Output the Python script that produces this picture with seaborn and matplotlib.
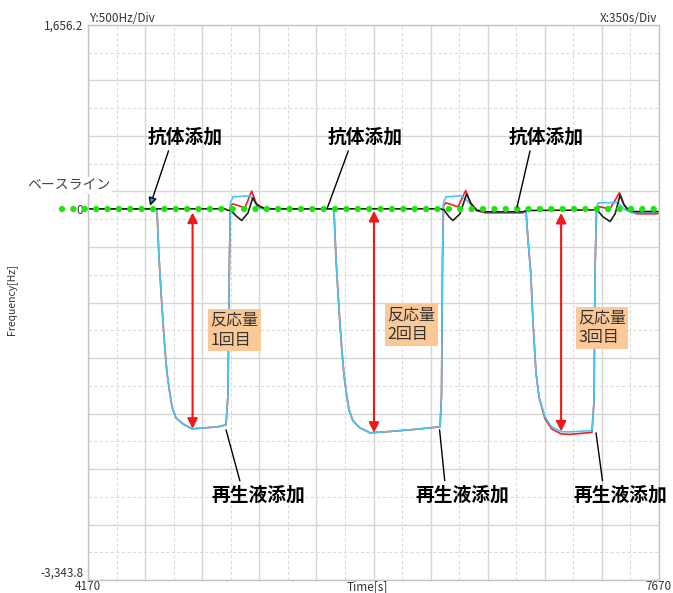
import numpy as np
import pandas as pd
import matplotlib
matplotlib.use("Agg")
import matplotlib.pyplot as plt
import seaborn as sns

# instrument screen range
t_min, t_max = 4170, 7670
hz_min, hz_max = -3343.8, 1656.2
t_div, hz_div = 350, 500

# traces: time [s] / frequency shift [Hz]
cyan_t = [4170, 4587, 4593, 4605, 4617, 4630, 4642, 4654, 4673, 4685, 4709, 4752, 4807, 4887, 4967, 5016,
          5028, 5037, 5043, 5059, 5163, 5181, 5224,
          5672, 5678, 5690, 5702, 5715, 5727, 5739, 5758, 5770, 5794, 5837, 5899, 5991, 6144, 6328,
          6337, 6343, 6349, 6364, 6462, 6487, 6542, 6603, 6836,
          6855, 6867, 6884, 6898, 6916, 6935, 6971, 7012, 7069, 7124, 7259,
          7272, 7278, 7287, 7296, 7413, 7432, 7462, 7505, 7664]
cyan_hz = [0, 0, -18, -432, -730, -1027, -1270, -1477, -1676, -1784, -1883, -1937, -1982, -1973, -1964, -1946,
           -1676, -459, 54, 108, 117, 90, 0,
           0, -27, -441, -748, -1045, -1288, -1496, -1703, -1811, -1910, -1973, -2018, -2009, -1991, -1964,
           -1676, -459, 54, 108, 117, 81, 0, -27, -27,
           -18, -279, -577, -1027, -1477, -1694, -1874, -1964, -2006, -2009, -1997,
           -1721, -550, -9, 54, 57, 36, -9, -33, -33]

red_t = [4170, 4587, 4593, 4605, 4617, 4630, 4642, 4654, 4673, 4685, 4709, 4752, 4807, 4887, 4967, 5016,
         5028, 5037, 5043, 5059, 5132, 5173, 5200, 5224, 5267,
         5672, 5678, 5690, 5702, 5715, 5727, 5739, 5758, 5770, 5794, 5837, 5899, 5991, 6144, 6328,
         6337, 6343, 6349, 6364, 6438, 6485, 6511, 6554, 6603, 6836,
         6855, 6867, 6884, 6898, 6916, 6935, 6971, 7012, 7069, 7124, 7259,
         7272, 7278, 7287, 7296, 7370, 7427, 7449, 7474, 7535, 7664]
red_hz = [0, 0, -18, -432, -730, -1027, -1270, -1477, -1676, -1784, -1883, -1937, -1982, -1973, -1964, -1946,
          -1676, -459, 30, 45, 9, 160, 54, 21, 0,
          0, -27, -441, -748, -1045, -1288, -1496, -1703, -1811, -1910, -1973, -2018, -2009, -1991, -1964,
          -1676, -459, 30, 54, 18, 165, 63, -15, -36, -36,
          -18, -279, -577, -1027, -1477, -1700, -1890, -1982, -2027, -2032, -2014,
          -1730, -550, -9, 21, 0, 145, 54, -9, -45, -45]

black_t = [4170, 5010, 5028, 5043, 5077, 5112, 5151, 5180, 5204, 5255,
           6330, 6352, 6383, 6407, 6450, 6491, 6518, 6553, 6603, 6836, 6860,
           7280, 7290, 7327, 7370, 7401, 7432, 7456, 7492, 7664]
black_hz = [0, 0, -15, -9, -63, -105, -36, 99, 36, 0,
            0, -9, -72, -105, -45, 135, 45, -15, -27, -27, -15,
            -10, -9, -72, -114, -45, 126, 36, -24, -24]

# annotations
antibody_text_t = [4765, 5868, 6978]
antibody_tip_t = [4550, 5635, 6800]
antibody_tip_hz = [27, 0, 18]
regen_text_t = [5212, 6463, 7431]
regen_tip_t = [5016, 6325, 7284]
regen_tip_hz = [-1991, -1991, -2018]
response_t = [4811, 5923, 7070]
response_top = [-33, -18, -36]
response_bottom = [-1982, -2018, -2006]
response_box_t = [5068, 6153, 7321]
response_box_hz = [-1095, -1045, -1072]
response_labels = ["反応量\n1回目", "反応量\n2回目", "反応量\n3回目"]

df = pd.concat([
    pd.DataFrame({"time": red_t, "freq": red_hz, "trace": "red"}),
    pd.DataFrame({"time": cyan_t, "freq": cyan_hz, "trace": "cyan"}),
    pd.DataFrame({"time": black_t, "freq": black_hz, "trace": "black"}),
], ignore_index=True)

sns.set_style("white")
plt.rcParams["font.family"] = ["Noto Sans CJK JP", "DejaVu Sans"]

fig = plt.figure(figsize=(6.73, 5.93), dpi=100)
ax = fig.add_axes([88 / 673, 13 / 593, 571 / 673, 555 / 593])

# screen grid: solid every division, dashed on the half division
for k, y in enumerate(np.arange(hz_max, hz_min - 1, -hz_div / 2)):
    ax.axhline(y, color="#d6d6d6" if k % 2 == 0 else "#dcdcdc", lw=1.0 if k % 2 == 0 else 0.8,
               ls="-" if k % 2 == 0 else (0, (3, 2)), zorder=0)
for k, x in enumerate(np.arange(t_min, t_max + 1, t_div / 2)):
    ax.axvline(x, color="#d6d6d6" if k % 2 == 0 else "#dcdcdc", lw=1.0 if k % 2 == 0 else 0.8,
               ls="-" if k % 2 == 0 else (0, (3, 2)), zorder=0)

sns.lineplot(data=df, x="time", y="freq", hue="trace", hue_order=["red", "cyan", "black"],
             palette={"red": "#f02020", "cyan": "#4cc6ee", "black": "#202020"},
             sort=False, estimator=None, legend=False, linewidth=1.2, ax=ax, zorder=2)

# baseline (green dots)
ax.plot([t_min - 160, t_max + 6], [0, 0], color="#1ee60a", lw=4.6, linestyle=(0, (0.001, 1.78)),
        dash_capstyle="round", clip_on=False, zorder=3)

ax.set_xlim(t_min, t_max)
ax.set_ylim(hz_min, hz_max)
ax.set_xticks([t_min, t_max], [str(t_min), str(t_max)])
ax.set_yticks([hz_max, 0, hz_min], ["1,656.2", "0", "-3,343.8"])
ax.tick_params(axis="both", length=0, labelsize=8.5, colors="#333333")
ax.tick_params(axis="y", pad=3.5)
ax.tick_params(axis="x", pad=0.2)
ax.get_yticklabels()[2].set_va("bottom")
ax.set_xlabel("")
ax.set_ylabel("Frequency[Hz]", fontsize=7.5, color="#333333")
ax.yaxis.set_label_coords(-0.124, 0.506)
ax.text(0.49, 0.0, "Time[s]", transform=ax.transAxes, ha="center", va="top", fontsize=8.5, color="#333333")
ax.text(0.003, 1.0, "Y:500Hz/Div", transform=ax.transAxes, ha="left", va="bottom", fontsize=8.5, color="#333333")
ax.text(0.997, 1.0, "X:350s/Div", transform=ax.transAxes, ha="right", va="bottom", fontsize=8.5, color="#333333")
for s in ax.spines.values():
    s.set_color("#c4c4c4")
    s.set_linewidth(1)

ax.text(3800, 207, "ベースライン", ha="left", va="center", fontsize=10, color="#444444",
        bbox=dict(boxstyle="square,pad=0.1", fc="white", ec="none"), zorder=4)

for i in range(3):
    head = dict(arrowstyle="-|>", fc="#3399cc", ec="black", lw=1, mutation_scale=12) if i == 0 \
        else dict(arrowstyle="-", color="black", lw=1)
    ax.annotate("抗体添加", xy=(antibody_tip_t[i], antibody_tip_hz[i]), xytext=(antibody_text_t[i], 649),
                ha="center", va="center", fontsize=13.5, fontweight="bold", color="black",
                arrowprops=dict(relpos=(0.3, 0), shrinkA=1, shrinkB=0, **head), zorder=5)
    ax.annotate("再生液添加", xy=(regen_tip_t[i], regen_tip_hz[i]), xytext=(regen_text_t[i], -2577),
                ha="center", va="center", fontsize=13.5, fontweight="bold", color="black",
                arrowprops=dict(arrowstyle="-", color="black", lw=1, relpos=(0.32, 1), shrinkA=1, shrinkB=0),
                zorder=5)
    ax.annotate("", xy=(response_t[i], response_bottom[i]), xytext=(response_t[i], response_top[i]),
                arrowprops=dict(arrowstyle="<|-|>", color="#f01818", lw=1.5, mutation_scale=15,
                                shrinkA=0, shrinkB=0), zorder=4)
    ax.text(response_box_t[i], response_box_hz[i], response_labels[i], ha="center", va="center",
            fontsize=11.5, color="#333333", linespacing=1.25, multialignment="left",
            bbox=dict(boxstyle="square,pad=0.15", fc="#fbc997", ec="none"), zorder=5)

fig.savefig("out.png", dpi=100)
